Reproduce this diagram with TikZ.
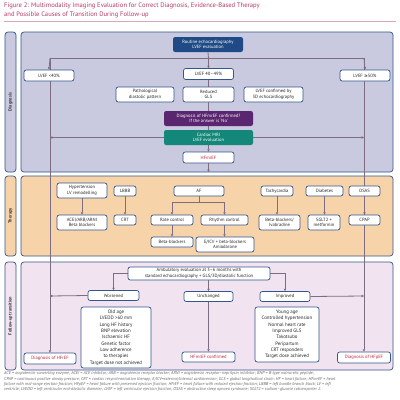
\documentclass[tikz,border=0pt]{standalone}
\usepackage{fontspec}
\setmainfont{PT Sans}
\newfontfamily\symf{DejaVu Sans}
\usetikzlibrary{arrows.meta,positioning}
\definecolor{titlec}{HTML}{B83A62}
\definecolor{rulec}{HTML}{D9A6BC}
\definecolor{bdr}{HTML}{34558A}
\definecolor{diagf}{HTML}{C9CADF}
\definecolor{therf}{HTML}{F7D3AA}
\definecolor{follf}{HTML}{F1E4F0}
\definecolor{navy}{HTML}{1F4A85}
\definecolor{purp}{HTML}{5A2670}
\definecolor{teal}{HTML}{138779}
\definecolor{redt}{HTML}{C8203F}
\definecolor{conn}{HTML}{7E6C80}
\definecolor{foot}{HTML}{666666}
\pgfdeclarelayer{lines}
\pgfdeclarelayer{panels}
\pgfsetlayers{panels,lines,main}
\tikzset{
  panel/.style={draw=bdr, line width=0.7pt, rounded corners=3pt},
  box/.style={draw=bdr, fill=white, line width=0.7pt, rounded corners=2.2pt, align=center,
    inner sep=0.5pt, font=\fontsize{4.6}{5.4}\selectfont, text=black!85},
  fbox/.style={box, draw=none, text=white},
  lst/.style={box, font=\fontsize{4.9}{6.35}\selectfont},
  arr/.style={draw=conn, line width=0.8pt, -{Triangle[length=2.4pt,width=2.4pt]}},
  ln/.style={draw=conn, line width=0.8pt},
  side/.style={rotate=90, font=\bfseries\fontsize{4.4}{5}\selectfont, text=black!80}
}
\begin{document}
\begin{tikzpicture}[x=1pt,y=-1pt]
\useasboundingbox (0,0) rectangle (400,400);
% title
\node[anchor=north west, inner sep=0, align=left, text=titlec, font=\fontsize{6.6}{9}\selectfont] (title) at (4,2.3)
  {Figure 2: Multimodality Imaging Evaluation for Correct Diagnosis, Evidence-Based Therapy\\and Possible Causes of Transition During Follow-up};
\draw[rulec, line width=0.6pt] (4,21) -- (396,21);
% panels
\begin{pgfonlayer}{panels}
\fill[white] (0,0) rectangle (400,400);
\draw[panel, fill=diagf] (5,32) rectangle (16,172);
\draw[panel, fill=diagf] (21,32) rectangle (393,172);
\draw[panel, fill=therf] (5,176) rectangle (16,256);
\draw[panel, fill=therf] (21,176) rectangle (393,256);
\draw[panel, fill=follf] (5,262) rectangle (16,370);
\draw[panel, fill=follf] (21,262) rectangle (393,370);
\end{pgfonlayer}
\node[side] (sd) at (10.5,102) {Diagnosis};
\node[side] (st) at (10.5,216) {Therapy};
\node[side] (sf) at (10.5,316) {Follow-up transition};
% diagnosis nodes
\node[fbox, fill=navy, minimum width=70pt, minimum height=15pt] (routine) at (208,44.5) {Routine echocardiography\\LVEF evaluation};
\node[box, minimum width=50pt, minimum height=11pt] (lva) at (49,75.5) {LVEF <40\%};
\node[box, minimum width=50pt, minimum height=11pt] (lvb) at (208.5,74) {LVEF 40–49\%};
\node[box, minimum width=50pt, minimum height=11pt] (lvc) at (365,75.5) {LVEF {\symf ≥}50\%};
\node[box, minimum width=58pt, minimum height=15pt] (path) at (145,94.5) {Pathological\\diastolic pattern};
\node[box, minimum width=51pt, minimum height=15pt] (gls) at (208.5,94.5) {Reduced\\GLS};
\node[box, minimum width=59pt, minimum height=15pt] (conf) at (273.5,94.5) {LVEF confirmed by\\3D echocardiography};
\node[fbox, fill=purp, minimum width=89pt, minimum height=15pt] (dq) at (208.5,118.5) {Diagnosis of HFmrEF confirmed?\\If the answer is ‘No’};
\node[fbox, fill=teal, minimum width=89pt, minimum height=15pt] (mri) at (208.5,137.5) {Cardiac MRI\\LVEF evaluation};
\node[box, minimum width=51pt, minimum height=11pt, text=redt] (hfm) at (208.5,157.5) {HFmrEF};
\coordinate (tl) at (50,58);
\coordinate (tm) at (208.5,58);
\coordinate (tr) at (364,58);
\coordinate (ml) at (50,137.5);
\coordinate (mr) at (364,137.5);
\coordinate (db) at (208.5,172);
% therapy nodes
\node[box, minimum width=50pt, minimum height=15pt] (hyp) at (82,190.5) {Hypertension\\LV remodelling};
\node[box, minimum width=50pt, minimum height=15pt] (acei) at (82,222.5) {ACEI/ARB/ARNI\\Beta blockers};
\node[box, minimum width=22pt, minimum height=10pt] (lbbb) at (125,191) {LBBB};
\node[box, minimum width=22pt, minimum height=10pt] (crt) at (125,220) {CRT};
\node[box, minimum width=50pt, minimum height=10pt] (af) at (199,191) {AF};
\node[box, minimum width=42pt, minimum height=10pt] (rate) at (172,220) {Rate control};
\node[box, minimum width=47pt, minimum height=10pt] (rhy) at (224.5,220) {Rhythm control};
\node[box, minimum width=42pt, minimum height=10pt] (bb) at (172,242) {Beta-blockers};
\node[box, minimum width=58pt, minimum height=15pt] (eicv) at (225,244.5) {E/ICV + beta-blockers\\Amiodarone};
\node[box, minimum width=32pt, minimum height=10pt] (tach) at (277,191) {Tachycardia};
\node[box, minimum width=41pt, minimum height=15pt] (bbi) at (279.5,222.5) {Beta-blockers/\\Ivabradine};
\node[box, minimum width=37pt, minimum height=10pt] (diab) at (324.5,191) {Diabetes};
\node[box, minimum width=32pt, minimum height=15pt] (sglt) at (324,222.5) {SGLT2 +\\metformin};
\node[box, minimum width=31pt, minimum height=10pt] (osas) at (364.5,191) {OSAS};
\node[box, minimum width=31pt, minimum height=10pt] (cpap) at (364.5,220) {CPAP};
\coordinate (afj) at (199,202);
% follow-up nodes
\node[box, minimum width=142pt, minimum height=13pt] (amb) at (199,273.5) {Ambulatory evaluation at 3–6 months with\\standard echocardiography + GLS/3D/diastolic function};
\node[box, minimum width=51pt, minimum height=10pt] (wors) at (113.5,295.5) {Worsened};
\node[box, minimum width=49pt, minimum height=10pt] (unch) at (208.5,296.5) {Unchanged};
\node[box, minimum width=50pt, minimum height=10pt] (impr) at (285,296.5) {Improved};
\node[lst, minimum width=70pt, minimum height=61pt] (wl) at (116,337.5) {Old age\\LVEDD >60 mm\\Long HF history\\BNP elevation\\Ischaemic HF\\Genetic factor\\Low adherence\\to therapies\\Target dose not achieved};
\node[lst, minimum width=64pt, minimum height=55pt] (il) at (287,334.5) {Young age\\Controlled hypertension\\Normal heart rate\\Improved GLS\\Takotsubo\\Peripartum\\CRT responders\\Target dose achieved};
\node[box, minimum width=52pt, minimum height=11pt, text=redt] (hfr) at (50,358.5) {Diagnosis of HFrEF};
\node[box, minimum width=53pt, minimum height=10pt, text=redt] (hfmc) at (208.5,357) {HFmrEF confirmed};
\node[box, minimum width=53pt, minimum height=11pt, text=redt] (hfp) at (364,357.5) {Diagnosis of HFpEF};
\coordinate (wl0) at (50,296);
\coordinate (ir0) at (364,296);
% footer
\node[anchor=north west, inner sep=0, align=left, text=foot, font=\itshape\fontsize{4.25}{5.4}\selectfont] (foot) at (4,371.5)
  {ACE = angiotensin-converting enzyme; ACEI = ACE inhibitor; ARB = angiotensin receptor blocker; ARNI = angiotensin receptor–neprilysin inhibitor; BNP = B-type natriuretic peptide;\\
   CPAP = continuous positive airway pressure; CRT = cardiac resynchronisation therapy; E/ICV=external/internal cardioversion; GLS = global longitudinal strain; HF = heart failure; HFmrEF = heart\\
   failure with mid-range ejection fraction; HFpEF = heart failure with preserved ejection fraction; HFrEF = heart failure with reduced ejection fraction; LBBB = left bundle branch block; LV = left\\
   ventricle; LVEDD = left ventricular end-diastolic diameter; LVEF = left ventricular ejection fraction; OSAS = obstructive sleep apnoea syndrome; SGLT2 = sodium–glucose cotransporter 2.};
% connectors
\begin{pgfonlayer}{lines}
\draw[ln] (routine.south) -- (tm);
\draw[ln] (tl) -- (tr);
\draw[arr] (tl) -- (hfr.north);
\draw[arr] (tr) -- (hfp.north);
\draw[arr] (tm) -- (lvb.north);
\draw[arr] (tl) -- (lva.north);
\draw[arr] (tr) -- (lvc.north);
\draw[ln] (lvb.south) -- (gls.north);
\draw[ln] (gls.south) -- (dq.north);
\draw[ln] (dq.south) -- (mri.north);
\draw[arr] (mri.south) -- (hfm.north);
\draw[arr] (hfm.south) -- (db);
\draw[arr] (mri.west) -- (ml);
\draw[arr] (mri.east) -- (mr);
\draw[arr] (hyp.south) -- (acei.north);
\draw[arr] (lbbb.south) -- (crt.north);
\draw[ln] (af.south) -- (afj);
\draw[arr] (afj) -| (rate.north);
\draw[arr] (afj) -| (rhy.north);
\draw[arr] (rate.south) -- (bb.north);
\draw[arr] (rhy.south) -- (rhy.south |- eicv.north);
\draw[arr] (tach.south) -- (tach.south |- bbi.north);
\draw[arr] (diab.south) -- (diab.south |- sglt.north);
\draw[arr] (osas.south) -- (cpap.north);
\draw[arr] (amb.west) -| (wors.north);
\draw[arr] (amb.south -| unch.north) -- (unch.north);
\draw[arr] (amb.east) -| (impr.north);
\draw[arr] (wors.west) -- (wl0);
\draw[arr] (impr.east) -- (ir0);
\draw[arr] (unch.south) -- (hfmc.north);
\end{pgfonlayer}
\end{tikzpicture}
\end{document}
